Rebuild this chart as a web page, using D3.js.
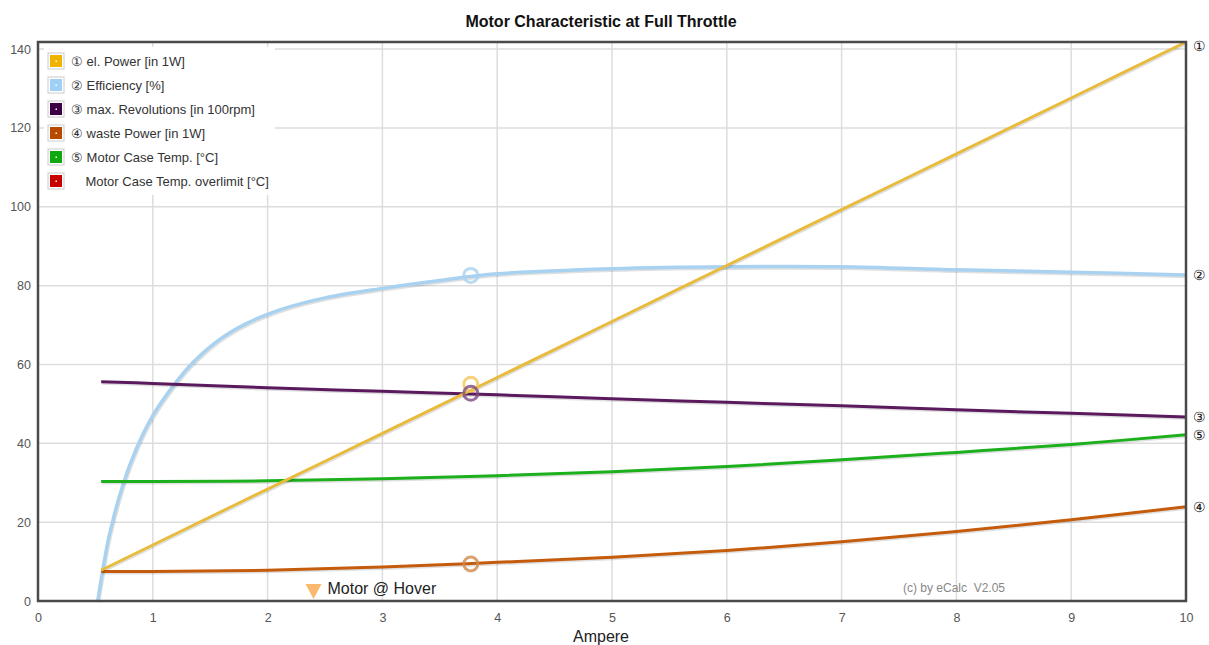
<!DOCTYPE html>
<html>
<head>
<meta charset="utf-8">
<script src="https://cdn.jsdelivr.net/npm/d3@7/dist/d3.min.js"></script>
<style>
  body { margin: 0; background: #fff; }
  svg text { font-family: "Liberation Sans", Arial, sans-serif; }
</style>
</head>
<body>
<svg id="chart" width="1209" height="645"></svg>
<script>
// ─── Data ──────────────────────────────────────────────────────
const currents      = [0.55, 1, 2, 3, 4, 5, 6, 7, 8, 9, 10];
const elPower       = [7.8, 14.2, 28.4, 42.5, 56.7, 70.9, 85.1, 99.3, 113.4, 127.6, 141.8];
const revolutions   = [55.6, 55.2, 54.1, 53.2, 52.3, 51.3, 50.4, 49.5, 48.5, 47.6, 46.7];
const caseTemp      = [30.3, 30.3, 30.5, 31.0, 31.8, 32.8, 34.1, 35.8, 37.7, 39.7, 42.2];
const wastePower    = [7.5, 7.5, 7.8, 8.6, 9.8, 11.1, 12.8, 15.0, 17.6, 20.6, 23.9];

const effCurrents   = [0.52, 0.565, 0.62, 0.74, 0.855, 1.0, 1.19, 1.35, 1.58, 1.81, 2.1, 2.5, 3, 3.5, 4, 5, 6, 7, 8, 9, 10];
const efficiency    = [0, 8, 16.5, 29.5, 38.5, 47, 55, 60.5, 66.3, 70.3, 73.8, 76.9, 79.3, 81.3, 83.0, 84.3, 84.8, 84.8, 84.0, 83.4, 82.7];

const hoverCurrent  = 3.77;   // operating point markers
const hoverValues   = { power: 55.0, eff: 82.6, rev: 52.7, waste: 9.4 };
const hoverLabelAt  = 2.4;

const xTicks = [0, 1, 2, 3, 4, 5, 6, 7, 8, 9, 10];
const yTicks = [0, 20, 40, 60, 80, 100, 120, 140];

const legendLabels = [
  '\u2460 el. Power [in 1W]',
  '\u2461 Efficiency [%]',
  '\u2462 max. Revolutions [in 100rpm]',
  '\u2463 waste Power [in 1W]',
  '\u2464 Motor Case Temp. [\u00b0C]',
  '    Motor Case Temp. overlimit [\u00b0C]'
];
const legendColors = ['#f0b400', '#9fd0f5', '#3c0046', '#b84a00', '#10a810', '#c80000'];

// ─── Layout ────────────────────────────────────────────────────
const svg = d3.select('#chart');
const plot = { left: 38, right: 1186, top: 42, bottom: 601 };

const x = d3.scaleLinear().domain([0, 10]).range([plot.left, plot.right]);
const y = d3.scaleLinear().domain([0, 141.8]).range([plot.bottom, plot.top]);

// title
svg.append('text')
  .attr('x', 601).attr('y', 27)
  .attr('text-anchor', 'middle')
  .attr('font-size', '16px').attr('font-weight', 'bold').attr('fill', '#111')
  .text('Motor Characteristic at Full Throttle');

// grid
const grid = svg.append('g');
grid.selectAll('line.gx').data(xTicks.slice(1, -1)).enter().append('line')
  .attr('x1', d => x(d)).attr('x2', d => x(d))
  .attr('y1', plot.top).attr('y2', plot.bottom)
  .attr('stroke', '#dddddd').attr('stroke-width', 1.5);
grid.selectAll('line.gy').data(yTicks.slice(1)).enter().append('line')
  .attr('x1', plot.left).attr('x2', plot.right)
  .attr('y1', d => y(d)).attr('y2', d => y(d))
  .attr('stroke', '#dddddd').attr('stroke-width', 1.5);

// axes (labels only, the frame is drawn separately)
const xAxis = svg.append('g')
  .attr('transform', `translate(0,${plot.bottom})`)
  .call(d3.axisBottom(x).tickValues(xTicks).tickSize(0).tickPadding(12));
const yAxis = svg.append('g')
  .attr('transform', `translate(${plot.left},0)`)
  .call(d3.axisLeft(y).tickValues(yTicks).tickSize(0).tickPadding(7));
[xAxis, yAxis].forEach(a => {
  a.select('.domain').remove();
  a.selectAll('text').attr('font-size', '12.5px').attr('fill', '#555')
    .attr('font-family', '"Liberation Sans", Arial, sans-serif');
});

svg.append('text')
  .attr('x', 601).attr('y', 642)
  .attr('text-anchor', 'middle').attr('font-size', '16px').attr('fill', '#222')
  .text('Ampere');

// watermark + hover marker
svg.append('text')
  .attr('x', 903).attr('y', 592)
  .attr('font-size', '12px').attr('fill', '#888')
  .attr('xml:space', 'preserve').style('white-space', 'pre')
  .text('(c) by eCalc  V2.05');

const hx = x(hoverLabelAt);
svg.append('path')
  .attr('d', `M${hx - 8},584 L${hx + 8},584 L${hx},599 Z`)
  .attr('fill', '#fbb86e');
svg.append('text')
  .attr('x', hx + 14).attr('y', 594)
  .attr('font-size', '16px').attr('fill', '#222')
  .text('Motor @ Hover');

// ─── Series ────────────────────────────────────────────────────
const series = [
  { xs: effCurrents, ys: efficiency,  color: '#a9d2f0', width: 3.5 },
  { xs: currents,    ys: caseTemp,    color: '#1cb01c', width: 3 },
  { xs: currents,    ys: wastePower,  color: '#c45c0c', width: 3 },
  { xs: currents,    ys: revolutions, color: '#5c1a5e', width: 3 },
  { xs: currents,    ys: elPower,     color: '#e8bb3c', width: 3 }
];

const lineGen = d3.line().x(d => x(d[0])).y(d => y(d[1])).curve(d3.curveCatmullRom.alpha(0.5));
const lines = svg.append('g');

series.forEach(s => {
  const pts = s.xs.map((v, i) => [v, s.ys[i]]);
  lines.append('path')
    .attr('d', lineGen(pts))
    .attr('fill', 'none').attr('stroke', 'rgba(0,0,0,0.12)')
    .attr('stroke-width', s.width).attr('transform', 'translate(1,1.5)');
  lines.append('path')
    .attr('d', lineGen(pts))
    .attr('fill', 'none').attr('stroke', s.color)
    .attr('stroke-width', s.width).attr('stroke-linejoin', 'round');
});

// operating point circles
const markers = [
  { v: hoverValues.eff,   color: '#a9d2f0' },
  { v: hoverValues.power, color: '#f0c75a' },
  { v: hoverValues.rev,   color: '#7d4a80' },
  { v: hoverValues.waste, color: '#d08a4a' }
];
svg.append('g').selectAll('circle').data(markers).enter().append('circle')
  .attr('cx', x(hoverCurrent)).attr('cy', d => y(d.v)).attr('r', 7)
  .attr('fill', 'none').attr('stroke', d => d.color)
  .attr('stroke-width', 3).attr('opacity', 0.8);

// frame
svg.append('rect')
  .attr('x', plot.left).attr('y', plot.top)
  .attr('width', plot.right - plot.left).attr('height', plot.bottom - plot.top)
  .attr('fill', 'none').attr('stroke', '#4a4a4a').attr('stroke-width', 2.5);

// end labels
const endLabels = [
  { label: '\u2460', v: elPower[elPower.length - 1] },
  { label: '\u2461', v: efficiency[efficiency.length - 1] },
  { label: '\u2462', v: revolutions[revolutions.length - 1] },
  { label: '\u2464', v: caseTemp[caseTemp.length - 1] },
  { label: '\u2463', v: wastePower[wastePower.length - 1] }
];
svg.append('g').selectAll('text').data(endLabels).enter().append('text')
  .attr('x', plot.right + 7).attr('y', d => Math.max(y(d.v), 46) + 5)
  .attr('font-size', '14px').attr('fill', '#111')
  .attr('font-family', '"DejaVu Sans", sans-serif')
  .text(d => d.label);

// ─── Legend ────────────────────────────────────────────────────
const legend = svg.append('g');
legend.append('rect')
  .attr('x', 44).attr('y', 47).attr('width', 231).attr('height', 148)
  .attr('fill', '#fff');
const rows = legend.selectAll('g.row').data(legendLabels).enter().append('g')
  .attr('transform', (d, i) => `translate(0,${61 + i * 24})`);
rows.append('rect')
  .attr('x', 48).attr('y', -8).attr('width', 16).attr('height', 16)
  .attr('fill', '#fff').attr('stroke', '#ccc');
rows.append('rect')
  .attr('x', 50).attr('y', -6).attr('width', 12).attr('height', 12)
  .attr('fill', (d, i) => legendColors[i]);
rows.append('rect')
  .attr('x', 55.5).attr('y', -0.5).attr('width', 1.5).attr('height', 1.5)
  .attr('fill', '#fff');
rows.append('text')
  .attr('x', 71).attr('y', 4.5)
  .attr('font-size', '13px').attr('fill', '#333')
  .attr('xml:space', 'preserve')
  .style('white-space', 'pre')
  .text(d => d);
</script>
</body>
</html>
